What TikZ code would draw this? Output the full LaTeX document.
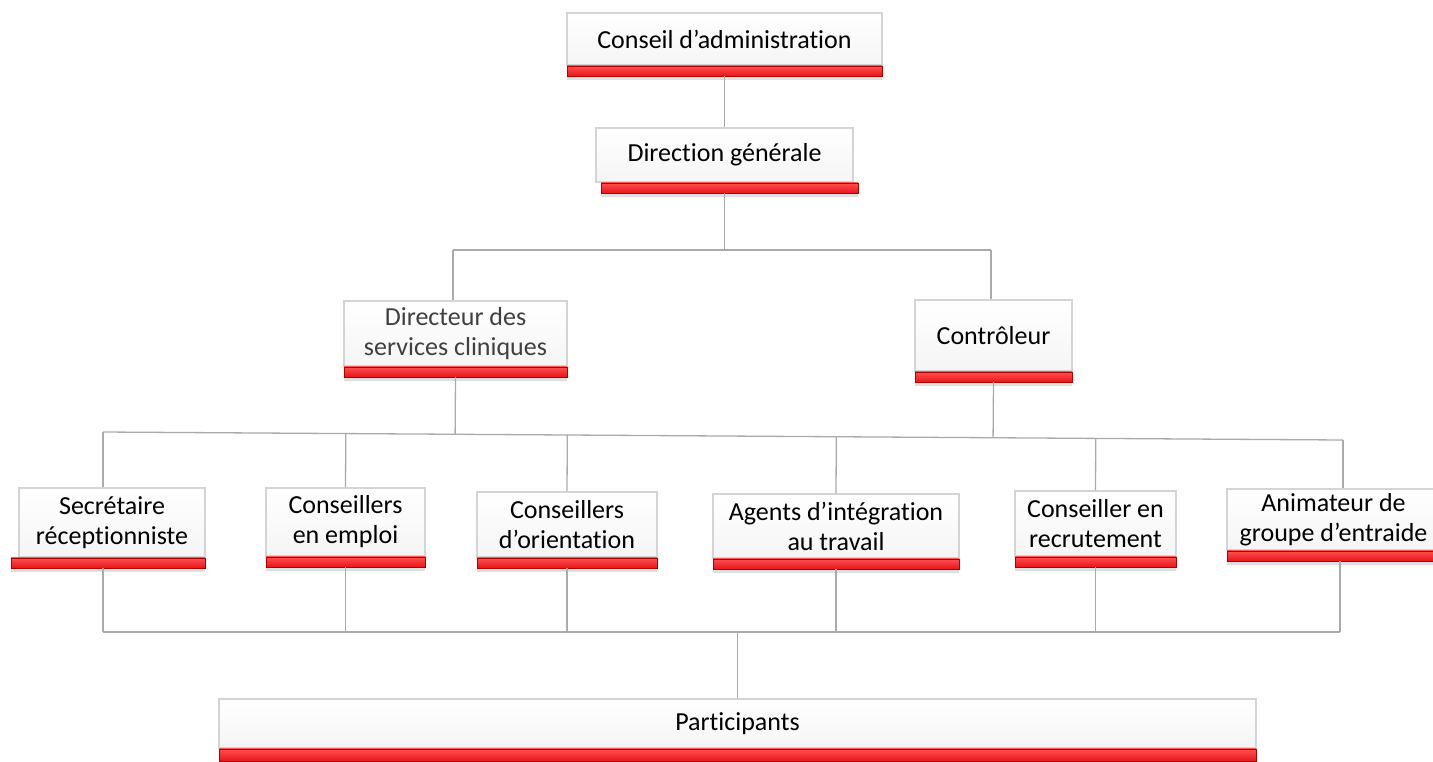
\documentclass[tikz,border=0pt]{standalone}
\usepackage{fontspec}
\setmainfont{Carlito}[Ligatures=NoCommon]
\usetikzlibrary{positioning,calc,shadows}

\definecolor{boxgray}{RGB}{212,212,212}
\definecolor{linegray}{RGB}{170,170,170}
\definecolor{barred}{RGB}{232,22,28}
\definecolor{barlight}{RGB}{255,80,80}
\definecolor{bardark}{RGB}{175,0,0}
\definecolor{txtgray}{RGB}{64,64,64}

\tikzset{
  orgbox/.style={draw=boxgray, line width=1.2pt, top color=white, bottom color=black!4,
    align=center, inner sep=0pt, font=\fontsize{26}{30}\selectfont},
  redbar/.style={draw=bardark, line width=0.6pt, top color=barlight, bottom color=barred,
    inner sep=0pt, minimum height=10pt,
    drop shadow={opacity=0.25, shadow xshift=0pt, shadow yshift=-4pt}},
  link/.style={draw=linegray, line width=1.3pt}
}

\begin{document}
\begin{tikzpicture}[x=1pt,y=-1pt]
    \useasboundingbox (0,0) rectangle (1433,761);

    % direction
    \node[orgbox, minimum width=315pt, minimum height=52pt] at (724.5, 39)   (ca) {Conseil d’administration};
    \node[redbar, minimum width=315pt, below=0pt of ca] (ca-bar) {};
    \node[orgbox, minimum width=257pt, minimum height=54pt] at (724.5, 155)  (dg) {Direction générale};
    \node[redbar, minimum width=257pt, below=0pt of dg, xshift=5pt] (dg-bar) {};

    % second level
    \node[orgbox, minimum width=223pt, minimum height=65pt, text=txtgray] at (455.5, 333.5) (dsc) {Directeur des\\services cliniques};
    \node[redbar, minimum width=223pt, below=0pt of dsc] (dsc-bar) {};
    \node[orgbox, minimum width=157pt, minimum height=71pt] at (993.5, 335.5) (ctl) {Contrôleur};
    \node[redbar, minimum width=157pt, below=0pt of ctl] (ctl-bar) {};

    % staff
    \node[orgbox, minimum width=186pt, minimum height=69pt] at (112, 522.5)    (sec) {Secrétaire\\réceptionniste};
    \node[redbar, minimum width=194pt, below=0pt of sec, xshift=-4pt] (sec-bar) {};
    \node[orgbox, minimum width=159pt, minimum height=68pt] at (345.5, 522)    (cem) {Conseillers\\en emploi};
    \node[redbar, minimum width=159pt, below=0pt of cem] (cem-bar) {};
    \node[orgbox, minimum width=180pt, minimum height=65pt] at (567, 524.5)    (cor) {Conseillers\\d’orientation};
    \node[redbar, minimum width=180pt, below=0pt of cor] (cor-bar) {};
    \node[orgbox, minimum width=246pt, minimum height=64pt] at (836, 526)      (agt) {Agents d’intégration\\au travail};
    \node[redbar, minimum width=246pt, below=0pt of agt] (agt-bar) {};
    \node[orgbox, minimum width=161pt, minimum height=65pt] at (1095.5, 523.5) (crc) {Conseiller en\\recrutement};
    \node[redbar, minimum width=161pt, below=0pt of crc] (crc-bar) {};
    \node[orgbox, minimum width=213pt, minimum height=61pt] at (1333.5, 519.5) (anm) {Animateur de\\groupe d’entraide};
    \node[redbar, minimum width=213pt, below=0pt of anm] (anm-bar) {};

    % participants
    \node[orgbox, minimum width=1037pt, minimum height=49pt] at (737.5, 723.5) (prt) {Participants};
    \node[redbar, minimum width=1037pt, minimum height=12pt, below=0pt of prt] (prt-bar) {};

    % connectors
    \coordinate (top-l) at (453, 250);
    \coordinate (top-r) at (991, 250);
    \coordinate (mid-l) at (103, 432);
    \coordinate (mid-r) at (1343, 440);
    \coordinate (bot-l) at (103, 632);
    \coordinate (bot-r) at (1340, 632);

    \draw[link] (ca-bar.south -| ca.north) -- (dg.north);
    \draw[link] (dg-bar.south -| dg.north) -- (dg.north |- top-l);
    \draw[link] (top-l) -- (top-r);
    \draw[link] (top-l) -- (top-l |- dsc.north);
    \draw[link] (top-r) -- (top-r |- ctl.north);

    \draw[link] (mid-l) -- (mid-r);
    \draw[link] (dsc-bar.south) -- ($(mid-l)!(dsc-bar.south)!(mid-r)$);
    \draw[link] (ctl-bar.south) -- ($(mid-l)!(ctl-bar.south)!(mid-r)$);
    \foreach \n in {cem, cor, agt, crc}
      \draw[link] ($(mid-l)!(\n.north)!(mid-r)$) -- (\n.north);
    \draw[link] (mid-l) -- (mid-l |- sec.north);
    \draw[link] (mid-r) -- (mid-r |- anm.north);

    \draw[link] (bot-l) -- (bot-r);
    \draw[link] (sec-bar.south -| bot-l) -- (bot-l);
    \foreach \n in {cem, cor, agt, crc}
      \draw[link] (\n-bar.south) -- (\n-bar.south |- bot-l);
    \draw[link] (anm-bar.south -| bot-r) -- (bot-r);
    \draw[link] (bot-l -| prt.north) -- (prt.north);
\end{tikzpicture}
\end{document}
